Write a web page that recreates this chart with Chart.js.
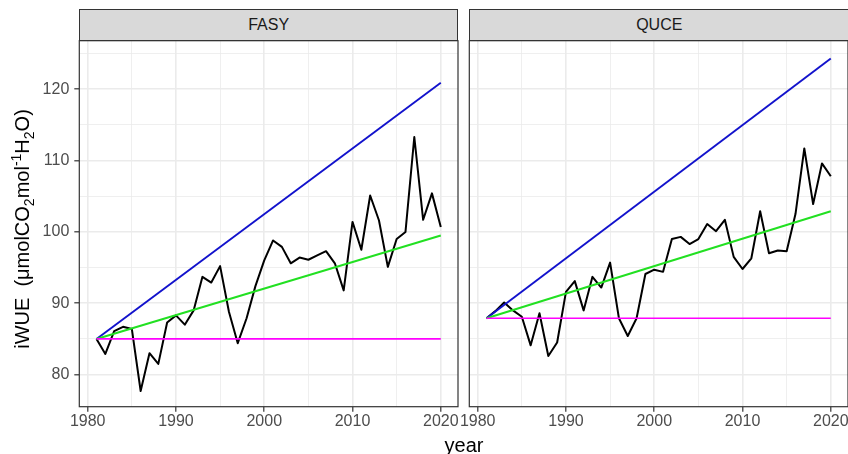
<!doctype html>
<html lang="en">
<head>
<meta charset="utf-8">
<title>iWUE FASY / QUCE</title>
<style>
  * { margin: 0; padding: 0; }
  body {
    width: 848px; height: 454px; overflow: hidden; position: relative;
    background: #fff; font-family: "Liberation Sans", Arial, sans-serif;
  }
  canvas { position: absolute; top: 0; }
  #c1 { left: 0; }
  #c2 { left: 440px; }
  .strip {
    position: absolute; top: 9.3px; height: 31.4px; box-sizing: border-box;
    background: #d9d9d9; border: 1.2px solid #333; color: #1a1a1a;
    font-size: 16px; line-height: 29px; text-align: center;
  }
  #ytitle {
    position: absolute; left: -128px; top: 217px; width: 300px; height: 24px;
    line-height: 24px; font-size: 20px; text-align: center; white-space: nowrap;
    transform: rotate(-90deg); color: #000;
  }
  #ytitle sub, #ytitle sup { font-size: 0.7em; line-height: 0; }
  #xtitle {
    position: absolute; left: 414px; top: 433px; width: 100px; height: 24px;
    line-height: 24px; font-size: 20px; text-align: center; color: #000;
  }
</style>
</head>
<body>
<canvas id="c1" width="470" height="454"></canvas>
<canvas id="c2" width="430" height="454"></canvas>
<div class="strip" id="s1" style="left:79.3px; width:378.7px;"></div>
<div class="strip" id="s2" style="left:469.3px; width:380px;"></div>
<div id="ytitle">iWUE&nbsp; (μmolCO<sub>2</sub>mol<sup>-1</sup>H<sub>2</sub>O)</div>
<div id="xtitle">year</div>

<script src="https://cdn.jsdelivr.net/npm/chart.js/dist/chart.umd.min.js"></script>
<script>
// data
const facets = ['FASY', 'QUCE'];
const years = [1981, 1982, 1983, 1984, 1985, 1986, 1987, 1988, 1989, 1990,
               1991, 1992, 1993, 1994, 1995, 1996, 1997, 1998, 1999, 2000,
               2001, 2002, 2003, 2004, 2005, 2006, 2007, 2008, 2009, 2010,
               2011, 2012, 2013, 2014, 2015, 2016, 2017, 2018, 2019, 2020];
const fasyIWUE = [85.0, 82.9, 86.1, 86.7, 86.4, 77.7, 83.0, 81.5, 87.3, 88.3,
                  87.0, 89.0, 93.7, 92.9, 95.2, 88.8, 84.4, 87.9, 92.4, 96.0,
                  98.8, 97.9, 95.6, 96.4, 96.1, 96.7, 97.3, 95.6, 91.8, 101.4,
                  97.5, 105.1, 101.6, 95.1, 99.0, 100.0, 113.3, 101.7, 105.4, 100.7];
const quceIWUE = [87.9, 88.9, 90.1, 89.0, 88.1, 84.1, 88.6, 82.6, 84.5, 91.6,
                  93.1, 89.0, 93.7, 92.2, 95.7, 87.9, 85.4, 87.9, 94.1, 94.7,
                  94.4, 99.0, 99.3, 98.3, 99.0, 101.1, 100.1, 101.7, 96.5, 94.8,
                  96.3, 102.9, 97.0, 97.4, 97.3, 102.5, 111.7, 103.9, 109.6, 107.8];
// scenario lines (start / end)
const scenYears = [1981, 2020];
const fasyBlue = [85.0, 120.9];
const fasyGreen = [85.0, 99.5];
const fasyMagenta = [85.0, 85.0];
const quceBlue = [87.9, 124.3];
const quceGreen = [87.9, 102.9];
const quceMagenta = [87.9, 87.9];

// grid positions (major ones get labels)
const xGrid = [1980, 1985, 1990, 1995, 2000, 2005, 2010, 2015, 2020];
const xLabels = [1980, 1990, 2000, 2010, 2020];
const yGrid = [80, 85, 90, 95, 100, 105, 110, 115, 120, 125];
const yLabels = [80, 90, 100, 110, 120];

const isMajor = (v, list) => list.some(t => Math.abs(t - v) < 1e-6);

const panelBorder = {
  id: 'panelBorder',
  afterDraw(chart) {
    const { ctx, chartArea: a } = chart;
    ctx.save();
    ctx.strokeStyle = '#333333';
    ctx.lineWidth = 1.2;
    ctx.strokeRect(a.left, a.top, a.right - a.left, a.bottom - a.top);
    ctx.restore();
  }
};

function pts(xs, ys) {
  return xs.map((x, i) => ({ x: x, y: ys[i] }));
}

function makeChart(id, obs, blue, green, magenta, firstPanel) {
  const line = (data, color, width) => ({
    data: data, borderColor: color, borderWidth: width,
    pointRadius: 0, tension: 0, borderJoinStyle: 'round', fill: false
  });
  return new Chart(document.getElementById(id), {
    type: 'line',
    data: {
      datasets: [
        line(pts(scenYears, magenta), '#ff00ff', 1.7),
        line(pts(scenYears, green), '#22e022', 2),
        line(pts(scenYears, blue), '#1212cc', 1.9),
        line(pts(years, obs), '#000000', 2)
      ]
    },
    options: {
      responsive: false,
      animation: false,
      devicePixelRatio: 1,
      layout: { padding: firstPanel ? { left: 0, right: 12, top: 40.7, bottom: 0 }
                                    : { left: 29.3, right: 22, top: 40.7, bottom: 0 } },
      plugins: { legend: { display: false }, tooltip: { enabled: false } },
      scales: {
        x: {
          type: 'linear', min: 1979.05, max: 2021.95,
          afterBuildTicks: s => { s.ticks = xGrid.map(v => ({ value: v })); },
          afterFit: s => { s.height = 47.3; },
          border: { display: false },
          grid: {
            color: '#ebebeb',
            lineWidth: c => isMajor(c.tick.value, xLabels) ? 1.6 : 0.8,
            tickColor: c => isMajor(c.tick.value, xLabels) ? '#333333' : 'rgba(0,0,0,0)',
            tickLength: 5, tickWidth: 1.2
          },
          ticks: {
            autoSkip: false, maxRotation: 0, padding: 0.5,
            color: '#4d4d4d', font: { family: 'Liberation Sans', size: 16 },
            callback: v => isMajor(v, xLabels) ? String(v) : ''
          }
        },
        y: {
          type: 'linear', min: 75.5, max: 126.8,
          afterBuildTicks: s => { s.ticks = yGrid.map(v => ({ value: v })); },
          afterFit: s => { s.width = firstPanel ? 79.3 : 0; },
          border: { display: false },
          grid: {
            color: '#ebebeb',
            lineWidth: c => isMajor(c.tick.value, yLabels) ? 1.6 : 0.8,
            tickColor: c => (firstPanel && isMajor(c.tick.value, yLabels)) ? '#333333' : 'rgba(0,0,0,0)',
            drawTicks: firstPanel,
            tickLength: 5, tickWidth: 1.2
          },
          ticks: {
            display: firstPanel,
            autoSkip: false, padding: 5,
            color: '#4d4d4d', font: { family: 'Liberation Sans', size: 16 },
            callback: v => isMajor(v, yLabels) ? String(v) : ''
          }
        }
      }
    },
    plugins: [panelBorder]
  });
}

document.getElementById('s1').textContent = facets[0];
document.getElementById('s2').textContent = facets[1];
makeChart('c1', fasyIWUE, fasyBlue, fasyGreen, fasyMagenta, true);
makeChart('c2', quceIWUE, quceBlue, quceGreen, quceMagenta, false);
</script>
</body>
</html>
